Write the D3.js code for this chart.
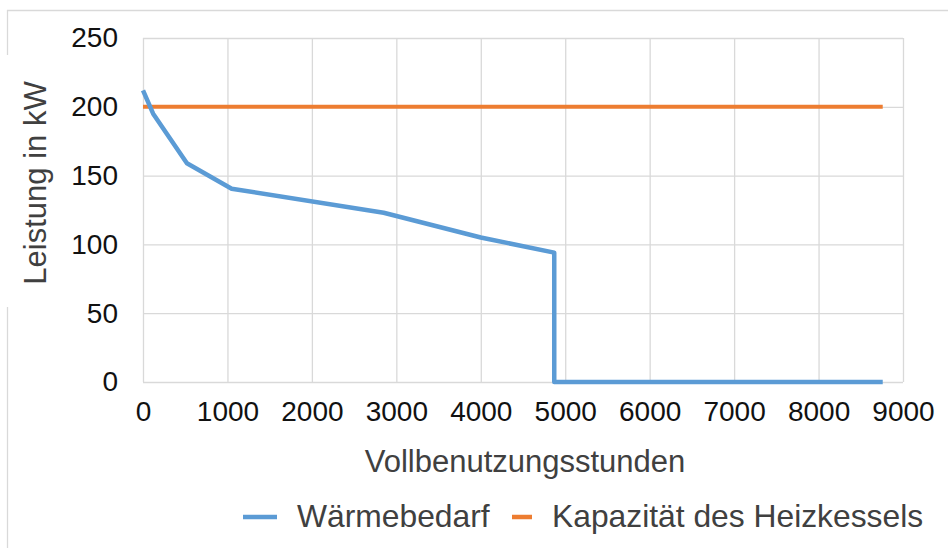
<!DOCTYPE html>
<html>
<head>
<meta charset="utf-8">
<script src="https://cdn.jsdelivr.net/npm/d3@7"></script>
<style>
  body { margin: 0; background: #fff; }
  svg { display: block; font-family: "Liberation Sans", Arial, sans-serif; }
  .grid line { stroke: #d9d9d9; stroke-width: 1.3; }
  .grid path { display: none; }
  .tickAxis path, .tickAxis line { display: none; }
  .tickAxis text { font-size: 28px; fill: #111; }
</style>
</head>
<body>
<div id="chart"></div>
<script>
// load duration curve (Jahresdauerlinie)
var hours = [0, 120, 520, 1050, 2850, 4000, 4870, 4870, 8760];
var demand = [212, 195, 159, 140.5, 123, 105, 94, 0, 0];

var capHours = [0, 8760];
var capacity = [200, 200];

var xTicks = [0, 1000, 2000, 3000, 4000, 5000, 6000, 7000, 8000, 9000];
var yTicks = [0, 50, 100, 150, 200, 250];

var seriesNames = ["Wärmebedarf", "Kapazität des Heizkessels"];
var seriesColors = ["#5b9bd5", "#ed7d31"];

//////////////////////////////////////////////////////////////////////////////

var width = 948, height = 548;
var plot = { left: 143, right: 903, top: 38, bottom: 382 };

var svg = d3.select("#chart").append("svg")
    .attr("width", width)
    .attr("height", height);

var x = d3.scaleLinear().domain([0, 9000]).range([plot.left, plot.right]);
var y = d3.scaleLinear().domain([0, 250]).range([plot.bottom, plot.top]);

// outer chart border (top + left), broken behind the y title
svg.append("line")
    .attr("x1", 7).attr("x2", width).attr("y1", 10.5).attr("y2", 10.5)
    .style("stroke", "#d9d9d9").style("stroke-width", 1.3);
svg.append("line")
    .attr("x1", 7.5).attr("x2", 7.5).attr("y1", 10).attr("y2", 55)
    .style("stroke", "#d9d9d9").style("stroke-width", 1.3);
svg.append("line")
    .attr("x1", 7.5).attr("x2", 7.5).attr("y1", 307).attr("y2", height)
    .style("stroke", "#d9d9d9").style("stroke-width", 1.3);

// gridlines
svg.append("g")
    .attr("class", "grid")
    .attr("transform", "translate(0," + plot.bottom + ")")
    .call(d3.axisBottom(x).tickValues(xTicks).tickSize(-(plot.bottom - plot.top)).tickFormat(""));

svg.append("g")
    .attr("class", "grid")
    .attr("transform", "translate(" + plot.left + ",0)")
    .call(d3.axisLeft(y).tickValues(yTicks).tickSize(-(plot.right - plot.left)).tickFormat(""));

// tick labels
svg.append("g")
    .attr("class", "tickAxis")
    .attr("transform", "translate(0," + (plot.bottom + 16) + ")")
    .call(d3.axisBottom(x).tickValues(xTicks).tickSize(0).tickFormat(d3.format("d")));

svg.append("g")
    .attr("class", "tickAxis")
    .attr("transform", "translate(" + (plot.left - 8) + ",0)")
    .call(d3.axisLeft(y).tickValues(yTicks).tickSize(0).tickFormat(d3.format("d")))
  .selectAll("text")
    .attr("x", -17);

// lines
var line = d3.line()
    .x(function(d){ return x(d[0]); })
    .y(function(d){ return y(d[1]); });

svg.append("path")
    .datum(d3.zip(capHours, capacity))
    .attr("d", line)
    .style("fill", "none")
    .style("stroke", seriesColors[1])
    .style("stroke-width", 4);

svg.append("path")
    .datum(d3.zip(hours, demand))
    .attr("d", line)
    .style("fill", "none")
    .style("stroke", seriesColors[0])
    .style("stroke-width", 4.5)
    .style("stroke-linejoin", "round");

// axis titles
svg.append("text")
    .attr("x", (plot.left + plot.right) / 2 + 2)
    .attr("y", 472)
    .attr("text-anchor", "middle")
    .style("font-size", "31px")
    .style("fill", "#404040")
    .text("Vollbenutzungsstunden");

svg.append("text")
    .attr("transform", "translate(46,183) rotate(-90)")
    .attr("text-anchor", "middle")
    .style("font-size", "31px")
    .style("fill", "#404040")
    .text("Leistung in kW");

// legend
var legend = [
  { x1: 243, x2: 277, tx: 297 },
  { x1: 512, x2: 532, tx: 552 }
];

var lg = svg.selectAll(".legend")
    .data(legend)
    .enter().append("g")
    .attr("class", "legend");

lg.append("line")
    .attr("x1", function(d){ return d.x1; })
    .attr("x2", function(d){ return d.x2; })
    .attr("y1", 517).attr("y2", 517)
    .style("stroke", function(d, i){ return seriesColors[i]; })
    .style("stroke-width", 4.5);

lg.append("text")
    .attr("x", function(d){ return d.tx; })
    .attr("y", 527)
    .style("font-size", "31.8px")
    .style("fill", "#404040")
    .text(function(d, i){ return seriesNames[i]; });
</script>
</body>
</html>
